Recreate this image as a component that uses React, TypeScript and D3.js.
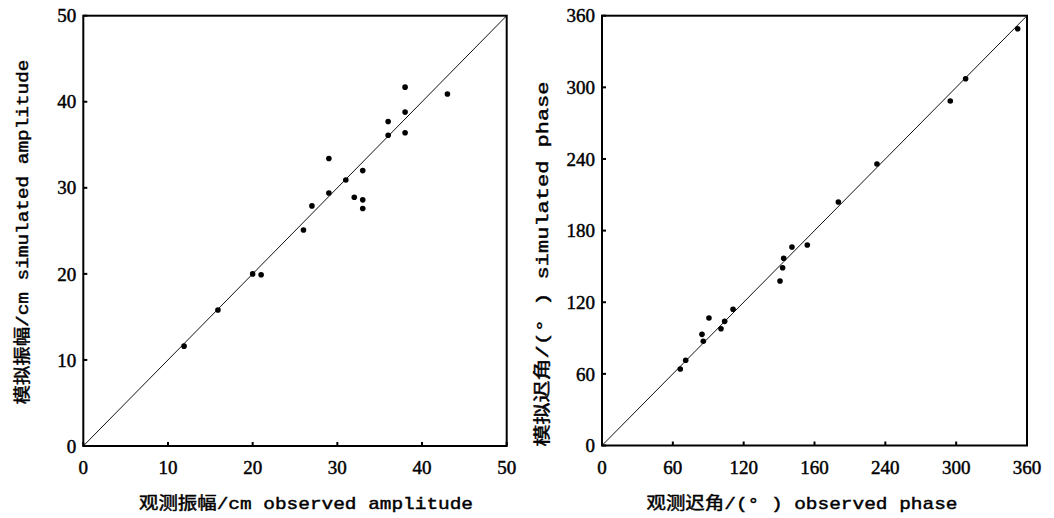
import React from "react";
import * as d3 from "d3";

// Left panel: amplitude (cm)
const ampObserved = [11.9, 15.9, 20, 21, 26, 27, 29, 29, 31, 32, 33, 33, 33, 36, 36, 38, 38, 38, 43];
const ampSimulated = [11.6, 15.8, 20, 19.9, 25.1, 27.9, 29.4, 33.4, 30.9, 28.9, 32, 28.6, 27.6, 36.1, 37.7, 36.4, 38.8, 41.7, 40.9];
const ampTicks = [0, 10, 20, 30, 40, 50];
const ampTickLabels = ["0", "10", "20", "30", "40", "50"];

// Right panel: phase (degrees)
const phaseObserved = [66.3, 70.9, 84.7, 85.8, 90.6, 100.8, 103.9, 111, 150.8, 153, 153.9, 160.9, 173.9, 200.2, 232.9, 295, 308, 352.1];
const phaseSimulated = [64.1, 71.4, 93.1, 87.3, 106.8, 97.8, 104, 114.1, 137.8, 148.9, 156.8, 166.3, 167.9, 204, 235.8, 288.5, 307.2, 349.1];
const phaseTicks = [0, 60, 120, 180, 240, 300, 360];
const phaseXTickLabels = ["0", "60", "120", "160", "240", "300", "360"];
const phaseYTickLabels = ["0", "60", "120", "180", "240", "300", "360"];

const leftXTitle = "观测振幅/cm observed amplitude";
const leftYTitle = "模拟振幅/cm simulated amplitude";
const rightXTitle = "观测迟角/(° ) observed phase";
const rightYTitle = "模拟迟角/(° ) simulated phase";

const tickFont = "'Liberation Serif', 'DejaVu Serif', serif";
const titleFont = "'Liberation Mono', 'Noto Sans CJK SC', monospace";

type PanelProps = {
  x0: number; x1: number; y0: number; y1: number;
  max: number;
  xs: number[]; ys: number[];
  ticks: number[]; xLabels: string[]; yLabels: string[];
  xTitle: string; yTitle: string;
  xTitleX: number; xTitleLen: number;
  yTitleX: number; yTitleY: number; yTitleLen: number;
};

function Panel(p: PanelProps) {
  const x = d3.scaleLinear().domain([0, p.max]).range([p.x0, p.x1]);
  const y = d3.scaleLinear().domain([0, p.max]).range([p.y1, p.y0]);
  return (
    <g>
      <line x1={x(0)} y1={y(0)} x2={x(p.max)} y2={y(p.max)} stroke="#111" strokeWidth={1} />
      {p.xs.map((v, i) => (
        <circle key={i} cx={x(v)} cy={y(p.ys[i])} r={2.8} fill="#000" />
      ))}
      <rect x={p.x0} y={p.y0} width={p.x1 - p.x0} height={p.y1 - p.y0} fill="none" stroke="#000" strokeWidth={2} />
      {p.ticks.map((t, i) => (
        <g key={"x" + i}>
          <line x1={x(t)} x2={x(t)} y1={p.y1} y2={p.y1 - 4} stroke="#000" strokeWidth={2} />
          <text x={x(t)} y={474} textAnchor="middle" fontFamily={tickFont} fontSize={19} fill="#000"
            stroke="#000" strokeWidth={0.45}>
            {p.xLabels[i]}
          </text>
        </g>
      ))}
      {p.ticks.map((t, i) => (
        <g key={"y" + i}>
          <line x1={p.x0} x2={p.x0 + 4} y1={y(t)} y2={y(t)} stroke="#000" strokeWidth={2} />
          <text x={p.x0 - 7} y={y(t)} dy="0.35em" textAnchor="end" fontFamily={tickFont} fontSize={19} fill="#000"
            stroke="#000" strokeWidth={0.45}>
            {p.yLabels[i]}
          </text>
        </g>
      ))}
      <text x={p.xTitleX} y={509} textAnchor="middle" fontFamily={titleFont} fontSize={17} fill="#000"
        stroke="#000" strokeWidth={0.45} textLength={p.xTitleLen} lengthAdjust="spacingAndGlyphs">
        {p.xTitle}
      </text>
      <text transform={`translate(${p.yTitleX},${p.yTitleY}) rotate(-90)`} textAnchor="middle" dy="0.35em"
        fontFamily={titleFont} fontSize={17} fill="#000" stroke="#000" strokeWidth={0.45}
        textLength={p.yTitleLen} lengthAdjust="spacingAndGlyphs">
        {p.yTitle}
      </text>
    </g>
  );
}

export default function App() {
  return (
    <svg width={1054} height={518} style={{ position: "absolute", left: 0, top: 0, background: "#fff" }}>
      <rect width={1054} height={518} fill="#fff" />
      <Panel x0={83.3} x1={506.7} y0={15.7} y1={446} max={50}
        xs={ampObserved} ys={ampSimulated} ticks={ampTicks} xLabels={ampTickLabels} yLabels={ampTickLabels}
        xTitle={leftXTitle} yTitle={leftYTitle} xTitleX={306} xTitleLen={334}
        yTitleX={22} yTitleY={232} yTitleLen={345} />
      <Panel x0={602} x1={1027} y0={15.7} y1={445.5} max={360}
        xs={phaseObserved} ys={phaseSimulated} ticks={phaseTicks} xLabels={phaseXTickLabels} yLabels={phaseYTickLabels}
        xTitle={rightXTitle} yTitle={rightYTitle} xTitleX={802} xTitleLen={311}
        yTitleX={542} yTitleY={264} yTitleLen={365} />
    </svg>
  );
}
